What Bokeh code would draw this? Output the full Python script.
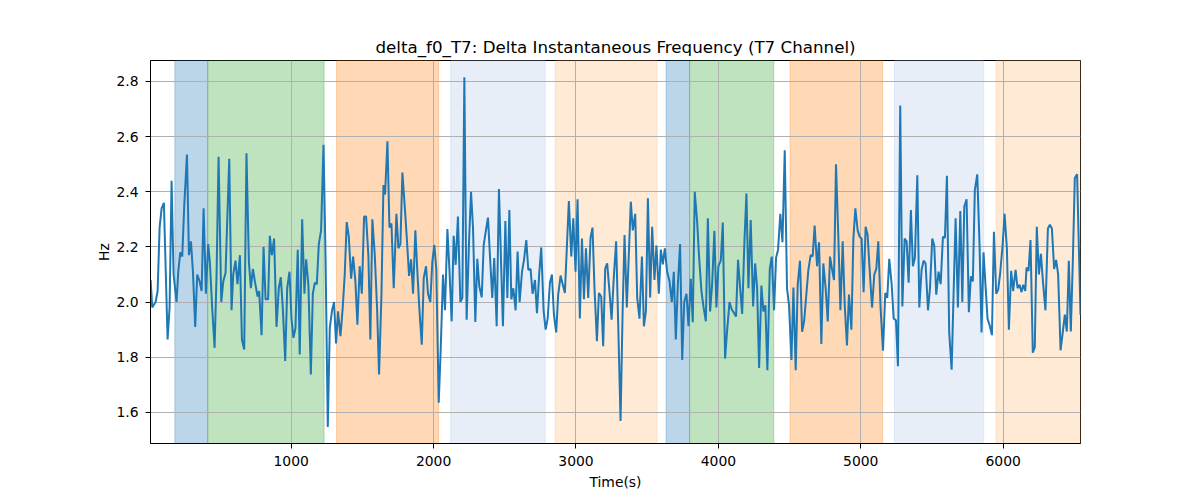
from bokeh.plotting import figure
from bokeh.models import BoxAnnotation, FixedTicker, PrintfTickFormatter, Range1d
from bokeh.embed import file_html
from bokeh.resources import INLINE

time_s = [13, 24, 48, 62, 76, 90, 106, 132, 146, 160, 174, 195, 207, 221, 235, 249, 268, 282, 296, 310,
          326, 340, 357, 371, 385, 401, 417, 429, 445, 462, 476, 490, 509, 523, 539, 565, 581, 593, 609, 623,
          640, 654, 670, 686, 703, 717, 731, 745, 764, 775, 792, 806, 820, 838,
          850, 864, 880, 897, 913, 927, 941, 958, 972, 988, 1002, 1016, 1030, 1046, 1060, 1077, 1093, 1105, 1121, 1138,
          1152, 1166, 1180, 1194, 1210, 1227, 1241, 1257, 1271, 1287, 1301, 1315, 1329, 1346, 1362, 1376, 1390, 1404,
          1421, 1435, 1451, 1465, 1481, 1496, 1512, 1526, 1542, 1556, 1570, 1587, 1603, 1617, 1634, 1648, 1659, 1676,
          1690, 1704, 1720, 1739, 1753, 1767, 1781, 1797, 1811, 1828, 1842, 1856, 1872, 1886, 1900, 1917, 1931, 1947,
          1961, 1977, 1991, 2005, 2019, 2036, 2050, 2066, 2080, 2097, 2111, 2127, 2141, 2155, 2171, 2188, 2202, 2216,
          2232, 2249, 2263, 2277, 2293, 2307, 2321, 2338, 2352, 2366, 2382, 2398, 2412, 2426, 2443, 2459, 2473, 2487, 2504,
          2518, 2532, 2546, 2560, 2576, 2590, 2604, 2621, 2635, 2651, 2665, 2681, 2695, 2712, 2726, 2742, 2756, 2773,
          2787, 2801, 2817, 2831, 2845, 2861, 2875, 2892, 2906, 2922, 2936, 2950, 2967, 2981, 2997, 3011, 3027, 3042,
          3056, 3070, 3086, 3102, 3116, 3130, 3147, 3161, 3177, 3191, 3205, 3219, 3236, 3250, 3266, 3282, 3296, 3313,
          3327, 3341, 3357,
          3385, 3399, 3416, 3430, 3446, 3463, 3477, 3491, 3505, 3521, 3535, 3551, 3565, 3582, 3596, 3610, 3624, 3640,
          3657, 3673, 3687, 3701, 3715, 3731, 3746, 3760, 3776, 3790, 3806, 3820, 3834, 3851, 3865, 3881, 3895, 3912,
          3926, 3942, 3956, 3972, 3986, 4000, 4017, 4031, 4047, 4061, 4078, 4094, 4110, 4124, 4138, 4153, 4167, 4183, 4197,
          4211, 4227, 4244, 4258, 4272, 4286, 4302, 4316, 4330, 4344, 4361, 4375, 4391, 4405, 4419, 4435, 4450, 4466,
          4482, 4496, 4513, 4527, 4543, 4557, 4573, 4588, 4602, 4618, 4632, 4648, 4662, 4676, 4693, 4707, 4723, 4737,
          4754, 4768, 4784, 4798, 4812, 4826, 4842, 4857, 4873, 4887, 4903, 4917, 4934, 4948, 4962, 4978, 4992, 5006,
          5020, 5034,
          5048, 5062, 5079, 5095, 5109, 5123, 5139, 5156, 5172, 5186, 5200, 5217, 5231, 5247, 5261, 5277, 5292, 5308,
          5322, 5336, 5352, 5366, 5380, 5397, 5411, 5427, 5441, 5455, 5472, 5486, 5502, 5516, 5530, 5546, 5561, 5577,
          5591, 5605, 5621, 5638, 5652, 5666, 5682, 5699, 5713, 5727, 5743, 5759, 5773, 5787, 5801, 5818, 5834, 5848, 5862,
          5890, 5907, 5921, 5935, 5951, 5965, 5979, 5996, 6010, 6026, 6040, 6056, 6070, 6087, 6101, 6115, 6129, 6141,
          6155, 6164, 6178, 6192, 6208, 6222, 6236, 6251, 6265, 6281, 6297, 6314, 6328, 6342, 6358, 6372, 6386, 6403,
          6419, 6433, 6447, 6461, 6475, 6489, 6503, 6519, 6543]

hz = [2.08, 1.98, 2.00, 2.04, 2.27, 2.34, 2.36, 1.864, 1.98, 2.44, 2.10, 2.00, 2.11, 2.18, 2.165, 2.35, 2.535, 2.17, 2.22, 2.11,
      1.91, 2.10, 2.075, 2.04, 2.34, 2.03, 2.21, 2.145, 1.98, 1.834, 2.10, 2.527, 2.00, 2.075, 2.105, 2.52, 1.97, 2.10, 2.15, 2.065,
      2.17, 1.864, 1.828, 2.54, 2.145, 2.05, 2.12, 2.075, 2.02, 2.04, 1.88, 2.20, 2.01, 2.01,
      2.24, 2.17, 2.23, 1.91, 2.05, 2.09, 1.98, 1.786, 2.05, 2.11, 1.94, 1.87, 1.906, 2.19, 1.81, 2.30, 2.03, 2.155, 2.06, 1.737,
      2.03, 2.07, 2.065, 2.21, 2.26, 2.57, 2.17, 1.547, 1.906, 1.97, 2.00, 1.85, 1.966, 1.876, 1.98, 2.10, 2.29, 2.24,
      2.085, 2.165, 2.075, 1.918, 2.13, 2.03, 2.31, 2.31, 2.17, 1.864, 2.30, 2.17, 1.98, 1.737, 2.03, 2.424, 2.39, 2.583,
      2.27, 2.285, 2.05, 2.32, 2.195, 2.21, 2.47, 2.35, 2.24, 2.095, 2.155, 2.03, 2.26, 2.11, 1.976, 1.845, 2.087, 2.13,
      2.03, 2.00, 2.145, 2.207, 2.12, 1.635, 1.828, 2.10, 1.97, 2.265, 2.12, 1.93, 2.24, 2.135, 2.31, 2.00, 2.015, 2.815,
      1.936, 2.22, 2.40, 2.267, 1.928, 2.157, 2.057, 2.017, 2.207, 2.255, 2.306, 2.147, 2.015, 2.16, 1.912, 2.41, 2.16, 1.912, 2.294,
      2.015, 2.334, 2.01, 2.05, 1.97, 2.183, 2.00, 2.11, 2.153, 2.225, 2.117, 2.12, 2.03, 2.08, 1.96, 2.105, 2.198, 1.966,
      1.90, 1.94, 2.07, 2.10, 1.954, 1.89, 2.027, 2.096, 2.065, 2.033, 2.20, 2.366, 2.165, 2.304, 2.11, 2.373, 1.94, 2.23,
      2.01, 2.195, 2.015, 2.233, 2.27, 2.05, 1.858, 2.033, 2.02, 1.84, 2.12, 2.14, 2.033, 1.936, 2.093, 2.22, 1.93, 1.569,
      1.954, 2.243, 1.98,
      2.364, 2.26, 2.32, 2.015, 1.94, 2.165, 1.912, 1.966, 2.376, 2.017, 2.273, 2.08, 2.205, 2.03, 2.19, 2.137, 2.195, 2.11,
      2.075, 2.00, 2.11, 1.864, 2.06, 2.21, 1.79, 2.00, 2.03, 1.912, 2.084, 1.927, 2.40, 2.29, 2.16, 2.04, 1.984, 1.93,
      2.304, 1.966, 2.063, 2.258, 1.98, 2.13, 2.15, 2.288, 1.795, 1.894, 2.00, 1.973, 1.96, 1.948, 2.153, 2.05, 1.957, 2.22, 2.394,
      2.05, 2.297, 1.984, 2.14, 2.05, 1.761, 2.06, 1.966, 1.988, 1.753, 2.12, 2.165, 1.97, 2.16, 2.19, 2.32, 2.217, 2.55,
      2.05, 1.99, 1.79, 2.053, 1.753, 2.063, 2.15, 1.892, 1.93, 2.03, 2.117, 2.17, 2.165, 2.277, 2.13, 2.217, 1.848, 2.14,
      2.045, 1.93, 2.165, 2.12, 2.08, 2.50, 2.243, 1.97, 2.22, 1.99, 1.843, 2.027, 1.90, 2.23, 2.34, 2.26, 2.237, 2.23,
      2.036, 2.273,
      2.243, 2.12, 1.98, 2.10, 2.12, 2.22, 1.98, 1.824, 2.033, 2.015, 2.157, 2.063, 1.94, 1.934, 1.767, 2.713, 1.984, 2.23,
      2.22, 2.07, 2.334, 2.13, 2.16, 2.46, 1.98, 2.117, 2.15, 2.14, 1.97, 2.05, 2.23, 2.205, 2.027, 2.11, 2.065, 2.237,
      2.233, 2.458, 1.888, 1.755, 2.036, 2.304, 1.98, 2.33, 2.00, 2.346, 2.373, 1.963, 2.093, 2.075, 2.406, 2.463, 2.207, 1.89, 2.18,
      1.94, 1.912, 1.88, 2.255, 2.03, 2.045, 2.105, 2.207, 2.32, 2.195, 1.90, 2.113, 2.04, 2.117, 2.05, 2.063, 2.036, 2.063,
      2.04, 2.125, 2.113, 2.225, 1.816, 1.836, 2.273, 2.10, 2.175, 2.063, 1.97, 2.267, 2.28, 2.267, 2.12, 2.153, 2.10, 1.825,
      1.893, 1.954, 1.893, 2.15, 1.893, 2.147, 2.45, 2.463, 1.954]

span_starts = [183, 414, 1318, 2120, 2854, 3633, 3798, 4503, 5236, 5949]
span_ends = [414, 1231, 2036, 2784, 3570, 3798, 4389, 5154, 5863, 6543]
span_colors = ["#1f77b4", "#2ca02c", "#ff7f0e", "#aec7e8", "#ffbb78",
               "#1f77b4", "#2ca02c", "#ff7f0e", "#aec7e8", "#ffbb78"]

x_ticks = [1000, 2000, 3000, 4000, 5000, 6000]
y_ticks = [1.6, 1.8, 2.0, 2.2, 2.4, 2.6, 2.8]

FONT = "DejaVu Sans"

p = figure(width=1192, height=492, output_backend="svg", toolbar_location=None,
           x_range=Range1d(12, 6543), y_range=Range1d(1.487, 2.876),
           min_border_left=150, min_border_right=112, min_border_top=60, min_border_bottom=48,
           title="delta_f0_T7: Delta Instantaneous Frequency (T7 Channel)")

for s, e, c in zip(span_starts, span_ends, span_colors):
    p.add_layout(BoxAnnotation(left=s, right=e, fill_color=c, fill_alpha=0.3,
                               line_color=c, line_alpha=0.3, line_width=1, level="image"))

p.line(time_s, hz, line_color="#1f77b4", line_width=2)

p.title.text_font = FONT
p.title.text_font_size = "16.7px"
p.title.text_font_style = "normal"
p.title.align = "center"
p.title.text_color = "black"
p.title.standoff = 8

p.outline_line_color = "black"
p.outline_line_width = 1

for ax in (p.xaxis[0], p.yaxis[0]):
    ax.axis_line_color = "black"
    ax.major_tick_line_color = "black"
    ax.major_tick_out = 5
    ax.major_tick_in = 0
    ax.minor_tick_line_color = None
    ax.major_label_text_font = FONT
    ax.major_label_text_font_size = "13.9px"
    ax.major_label_text_color = "black"
    ax.axis_label_text_font = FONT
    ax.axis_label_text_font_size = "13.9px"
    ax.axis_label_text_font_style = "normal"
    ax.axis_label_text_color = "black"

p.xaxis.ticker = FixedTicker(ticks=x_ticks)
p.yaxis.ticker = FixedTicker(ticks=y_ticks)
p.yaxis.formatter = PrintfTickFormatter(format="%.1f")
p.xaxis.axis_label = "Time(s)"
p.yaxis.axis_label = "Hz"
p.xaxis.major_label_standoff = 7
p.yaxis.major_label_standoff = 7
p.xaxis.axis_label_standoff = 5
p.yaxis.axis_label_standoff = 1

p.grid.grid_line_color = "#b0b0b0"
p.grid.grid_line_width = 1

open("out.html", "w").write(file_html(p, INLINE))
